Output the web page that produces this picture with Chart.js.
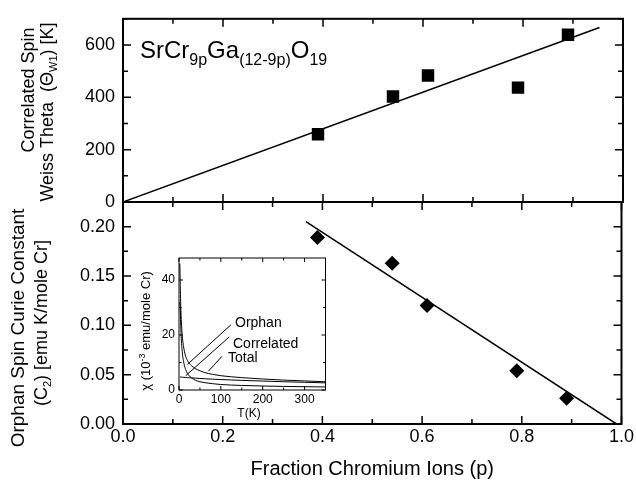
<!DOCTYPE html>
<html>
<head>
<meta charset="utf-8">
<script src="https://cdn.jsdelivr.net/npm/chart.js@4"></script>
<style>
  html, body { margin: 0; padding: 0; background: #fff; }
  #wrap { position: relative; width: 636px; height: 485px; }
  canvas { position: absolute; left: 0; top: 0; }
</style>
</head>
<body>
<div id="wrap">
  <canvas id="topChart" width="636" height="485"></canvas>
  <canvas id="bottomChart" width="636" height="485"></canvas>
  <canvas id="insetChart" width="636" height="485"></canvas>
</div>
<script>
const FONT = '"Liberation Sans", Arial, Helvetica, sans-serif';

// main panels: fraction of Cr ions p
const fraction = [0.39, 0.54, 0.61, 0.79, 0.89];
const weissTheta = [259, 403, 483, 437, 639];      // K
const curieConst = [0.189, 0.163, 0.120, 0.054, 0.026];

// straight-line fits
const weissFitP = [0, 0.953];
const weissFitVal = [0, 667];
const curieFitP = [0.367, 0.99];
const curieFitVal = [0.205, 0];

// inset: susceptibility vs temperature
const insetT = [2, 3, 5, 8, 12, 16, 20, 25, 30, 40, 50, 60, 80, 100, 125, 150, 200, 250, 300, 350];
const chiTotal = [46, 38, 27, 19.5, 14.8, 12.2, 10.8, 9.6, 8.8, 7.7, 7.0, 6.4, 5.7, 5.2, 4.8, 4.5, 4.0, 3.6, 3.3, 3.0];
const chiOrphan = [32, 29, 20, 13.5, 9.5, 7.4, 6.1, 5.1, 4.4, 3.5, 3.0, 2.7, 2.3, 2.0, 1.8, 1.65, 1.45, 1.3, 1.2, 1.1];
const chiCorrelated = [4.7, 4.7, 4.7, 4.65, 4.6, 4.55, 4.5, 4.45, 4.4, 4.3, 4.2, 4.1, 3.95, 3.8, 3.65, 3.5, 3.25, 3.0, 2.8, 2.6];

// inset leader lines [T, chi] from label to curve
const orphanLeader = [[124, 23.7], [20, 9.3]];
const correlatedLeader = [[120, 19.3], [16, 5.2]];
const totalLeader = [[103, 12.3], [70, 6.8]];

Chart.defaults.font.family = FONT;
Chart.defaults.color = '#000';

const toXY = (xs, ys) => xs.map((x, i) => ({ x: x, y: ys[i] }));
const pairXY = (pts) => pts.map(p => ({ x: p[0], y: p[1] }));

// box around plot area with inward ticks on all sides
const frameTicks = {
  id: 'frameTicks',
  beforeDatasetsDraw(chart, args, opts) {
    if (!opts.fill) return;
    const a = chart.chartArea;
    chart.ctx.save();
    chart.ctx.fillStyle = '#fff';
    chart.ctx.fillRect(a.left, a.top, a.right - a.left, a.bottom - a.top);
    chart.ctx.restore();
  },
  afterDatasetsDraw(chart, args, opts) {
    const { ctx, chartArea: a, scales } = chart;
    const xs = scales.x, ys = scales.y;
    ctx.save();
    ctx.strokeStyle = '#000';
    ctx.lineWidth = opts.tickWidth;
    ctx.beginPath();
    for (let i = 0; ; i++) {
      const v = xs.min + i * opts.xMinor;
      if (v > xs.max + 1e-9) break;
      const len = i % 2 === 0 ? opts.major : opts.minor;
      const px = xs.getPixelForValue(v);
      ctx.moveTo(px, a.bottom); ctx.lineTo(px, a.bottom - len);
      ctx.moveTo(px, a.top); ctx.lineTo(px, a.top + len);
    }
    for (let i = 0; ; i++) {
      const v = ys.min + i * opts.yMinor;
      if (v > ys.max + 1e-9) break;
      const len = i % 2 === 0 ? opts.major : opts.minor;
      const py = ys.getPixelForValue(v);
      ctx.moveTo(a.left, py); ctx.lineTo(a.left + len, py);
      ctx.moveTo(a.right, py); ctx.lineTo(a.right - len, py);
    }
    ctx.stroke();
    ctx.lineWidth = opts.frameWidth;
    ctx.strokeRect(a.left, a.top, a.right - a.left, a.bottom - a.top);
    ctx.restore();
  }
};

// free text with sub/superscripts; parts = [text, size, dy]
function drawRich(ctx, parts, x, y, angle, align) {
  ctx.save();
  ctx.translate(x, y);
  ctx.rotate(angle || 0);
  ctx.fillStyle = '#000';
  ctx.textBaseline = 'alphabetic';
  ctx.textAlign = 'left';
  let w = 0;
  parts.forEach(p => { ctx.font = p[1] + 'px ' + FONT; w += ctx.measureText(p[0]).width; });
  let cx = align === 'center' ? -w / 2 : 0;
  parts.forEach(p => {
    ctx.font = p[1] + 'px ' + FONT;
    ctx.fillText(p[0], cx, p[2] || 0);
    cx += ctx.measureText(p[0]).width;
  });
  ctx.restore();
}

const textLabels = {
  id: 'textLabels',
  afterDraw(chart, args, opts) {
    (opts.items || []).forEach(it => drawRich(chart.ctx, it.parts, it.x, it.y, it.angle, it.align));
  }
};

const UP = -Math.PI / 2;
const baseOpts = (pad) => ({
  responsive: false,
  animation: false,
  events: [],
  layout: { autoPadding: false, padding: pad },
  plugins: { legend: { display: false }, tooltip: { enabled: false } }
});

// ---- top panel: Weiss theta ----
const topOpts = baseOpts({ left: 0, right: 13, top: 9, bottom: 283 });
topOpts.plugins.frameTicks = { xMinor: 0.1, yMinor: 100, major: 8, minor: 5, tickWidth: 1.5, frameWidth: 2 };
topOpts.plugins.textLabels = { items: [
  { parts: [['Correlated Spin', 18]], x: 34, y: 90, angle: UP, align: 'center' },
  { parts: [['Weiss Theta  (\u0398', 18], ['W1', 11, 4], [') [K]', 18]], x: 53, y: 112, angle: UP, align: 'center' },
  { parts: [['SrCr', 24], ['9p', 16, 7], ['Ga', 24], ['(12-9p)', 16, 7], ['O', 24], ['19', 16, 7]], x: 140, y: 58 }
]};
topOpts.scales = {
  x: { type: 'linear', display: false, min: 0, max: 1 },
  y: {
    min: 0, max: 700,
    grid: { display: false, drawTicks: false }, border: { display: false },
    ticks: { stepSize: 200, includeBounds: false, padding: 8, font: { size: 18 } },
    afterFit: s => { s.width = 123; }
  }
};
new Chart(document.getElementById('topChart'), {
  type: 'scatter',
  data: { datasets: [
    { data: toXY(weissFitP, weissFitVal), showLine: true, borderColor: '#000', borderWidth: 1.5, pointRadius: 0 },
    { data: toXY(fraction, weissTheta), pointStyle: 'rect', pointRadius: 8.8, backgroundColor: '#000', borderColor: '#000', borderWidth: 0 }
  ]},
  options: topOpts,
  plugins: [frameTicks, textLabels]
});

// ---- bottom panel: orphan Curie constant ----
const botOpts = baseOpts({ left: 0, right: 13, top: 202, bottom: 0 });
botOpts.plugins.frameTicks = { xMinor: 0.1, yMinor: 0.025, major: 8, minor: 5, tickWidth: 1.5, frameWidth: 2 };
botOpts.plugins.textLabels = { items: [
  { parts: [['Orphan Spin Curie Constant', 19]], x: 24, y: 328, angle: UP, align: 'center' },
  { parts: [['(C', 18], ['2', 11, 4], [') [emu K/mole Cr]', 18]], x: 47, y: 323, angle: UP, align: 'center' }
]};
botOpts.scales = {
  x: {
    type: 'linear', min: 0, max: 1,
    grid: { display: false, drawTicks: false }, border: { display: false },
    ticks: { stepSize: 0.2, padding: 2, maxRotation: 0, autoSkip: false, font: { size: 18 }, callback: v => v.toFixed(1) },
    title: { display: true, text: 'Fraction Chromium Ions (p)', font: { size: 20 }, padding: { top: 0, bottom: 4 } },
    afterFit: s => { s.height = 61; }
  },
  y: {
    min: 0, max: 0.225,
    grid: { display: false, drawTicks: false }, border: { display: false },
    ticks: { stepSize: 0.05, includeBounds: false, padding: 8, font: { size: 18 }, callback: v => v.toFixed(2) },
    afterFit: s => { s.width = 123; }
  }
};
new Chart(document.getElementById('bottomChart'), {
  type: 'scatter',
  data: { datasets: [
    { data: toXY(curieFitP, curieFitVal), showLine: true, borderColor: '#000', borderWidth: 1.5, pointRadius: 0 },
    { data: toXY(fraction, curieConst), pointStyle: 'rectRot', pointRadius: 7.5, backgroundColor: '#000', borderColor: '#000', borderWidth: 0 }
  ]},
  options: botOpts,
  plugins: [frameTicks, textLabels]
});

// ---- inset: chi(T) ----
const insOpts = baseOpts({ left: 0, right: 310.5, top: 258, bottom: 0 });
insOpts.plugins.frameTicks = { xMinor: 50, yMinor: 10, major: 4, minor: 2.5, tickWidth: 1, frameWidth: 1, fill: true };
insOpts.plugins.textLabels = { items: [
  { parts: [['\u03c7 (10', 13], ['-3', 9, -5], [' emu/mole Cr)', 13]], x: 150, y: 331, angle: UP, align: 'center' },
  { parts: [['T(K)', 12]], x: 249, y: 417, align: 'center' },
  { parts: [['Orphan', 14]], x: 235, y: 327 },
  { parts: [['Correlated', 14]], x: 233, y: 348 },
  { parts: [['Total', 14]], x: 228, y: 362 }
]};
insOpts.scales = {
  x: {
    type: 'linear', min: 0, max: 350,
    grid: { display: false, drawTicks: false }, border: { display: false },
    ticks: { stepSize: 100, includeBounds: false, padding: 2, maxRotation: 0, autoSkip: false, font: { size: 12 } },
    afterFit: s => { s.height = 95; }
  },
  y: {
    min: 0, max: 48,
    grid: { display: false, drawTicks: false }, border: { display: false },
    ticks: { stepSize: 20, includeBounds: false, padding: 4, font: { size: 12 } },
    afterFit: s => { s.width = 179; }
  }
};
const curve = (ys) => ({ data: toXY(insetT, ys), showLine: true, borderColor: '#000', borderWidth: 1, pointRadius: 0, cubicInterpolationMode: 'monotone' });
const leader = (pts) => ({ data: pairXY(pts), showLine: true, borderColor: '#000', borderWidth: 1, pointRadius: 0 });
new Chart(document.getElementById('insetChart'), {
  type: 'scatter',
  data: { datasets: [
    curve(chiTotal), curve(chiOrphan), curve(chiCorrelated),
    leader(orphanLeader), leader(correlatedLeader), leader(totalLeader)
  ]},
  options: insOpts,
  plugins: [frameTicks, textLabels]
});
</script>
</body>
</html>
